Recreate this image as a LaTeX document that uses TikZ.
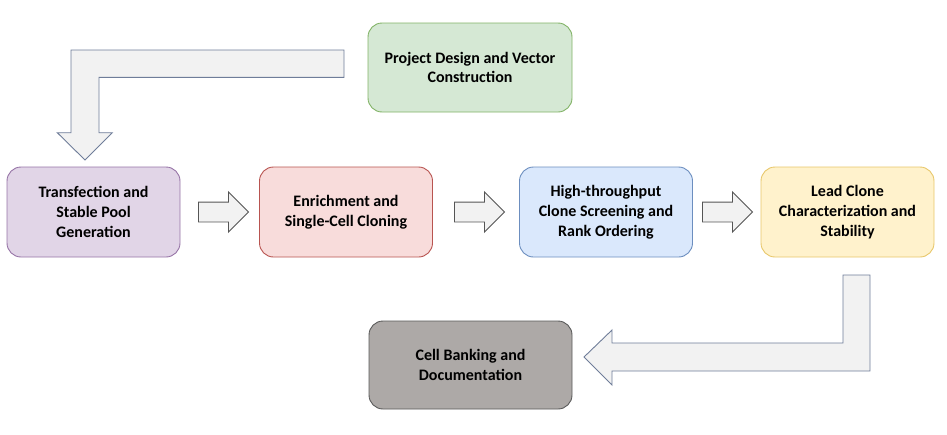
\documentclass[tikz,border=0pt]{standalone}
\usepackage{fontspec}
\setmainfont{Carlito}
\usetikzlibrary{shapes.arrows,positioning}
\definecolor{grnfill}{HTML}{D5E8D4}\definecolor{grnline}{HTML}{82B366}
\definecolor{purfill}{HTML}{E1D5E7}\definecolor{purline}{HTML}{9673A6}
\definecolor{redfill}{HTML}{F8DCDB}\definecolor{redline}{HTML}{B85450}
\definecolor{blufill}{HTML}{DAE8FC}\definecolor{bluline}{HTML}{6C8EBF}
\definecolor{yelfill}{HTML}{FFF2CC}\definecolor{yelline}{HTML}{E8C76A}
\definecolor{gryfill}{HTML}{ADA9A7}\definecolor{gryline}{HTML}{5A5A5A}
\definecolor{arrfill}{HTML}{F2F2F2}\definecolor{arrline}{HTML}{555555}
\definecolor{bigline}{HTML}{6F7D99}
\tikzset{
  stage/.style={draw, line width=0.9pt, rounded corners=14pt, minimum width=173pt, minimum height=90pt,
    inner sep=0pt, align=center, font=\fontsize{16}{19.8}\selectfont\bfseries},
  flow/.style={single arrow, draw=arrline, line width=0.9pt, fill=arrfill, minimum height=50pt,
    minimum width=39pt, single arrow head extend=10pt, inner sep=9.5pt, anchor=tail},
  bentarrow/.style={draw=bigline, line width=0.9pt, fill=arrfill, line join=miter},
}

\begin{document}
\begin{tikzpicture}[x=1pt, y=-1pt]
  \useasboundingbox (0,0) rectangle (947,434);
  \node[stage, fill=grnfill, draw=grnline, minimum width=204pt, minimum height=89pt] (design) at (470,67.5) {Project Design and Vector\\Construction};
  \node[stage, fill=purfill, draw=purline] (transf) at (93.5,212) {Transfection and\\Stable Pool\\Generation};
  \node[stage, fill=redfill, draw=redline] (enrich) at (346,212) {Enrichment and\\Single-Cell Cloning};
  \node[stage, fill=blufill, draw=bluline] (screen) at (606,212) {High-throughput\\Clone Screening and\\Rank Ordering};
  \node[stage, fill=yelfill, draw=yelline] (lead) at (847.5,212) {Lead Clone\\Characterization and\\Stability};
  \node[stage, fill=gryfill, draw=gryline, minimum width=203pt, minimum height=88pt] (bank) at (470.5,365) {Cell Banking and\\Documentation};
  % arrows between the stages
  \node[flow] (f1) at (198,212) {};
  \node[flow] (f2) at (454,212) {};
  \node[flow] (f3) at (702,212) {};
  % bent arrows
  \draw[bentarrow] (344,50) -- (71,50) -- (71,132.7) -- (57.3,132.7) -- (85,160)
    -- (112.3,132.7) -- (99,132.7) -- (99,77.3) -- (344,77.3) -- cycle;
  \draw[bentarrow] (843,275) -- (870,275) -- (870,371) -- (612,371) -- (612,385)
    -- (584,357) -- (612,330) -- (612,343) -- (843,343) -- cycle;
\end{tikzpicture}
\end{document}
